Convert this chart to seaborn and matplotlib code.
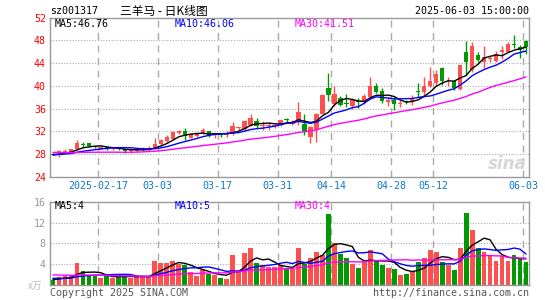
# 三羊马 (sz001317) daily K-line chart, Sina style
import numpy as np
import pandas as pd
import matplotlib
matplotlib.use("Agg")
import matplotlib.pyplot as plt
import seaborn as sns

# ------------------------------------------
# DATA
# ------------------------------------------

open_ = [28.1, 28.2, 28.4, 28.4, 28.9, 29.8, 29.9, 29.4, 29.0, 29.3,
         28.9, 29.2, 28.9, 28.5, 28.6, 28.8, 28.9, 29.0, 29.8, 30.4,
         30.7, 31.8, 32.0, 30.9, 31.2, 31.7, 32.0, 31.3, 31.6, 31.4,
         31.5, 32.6, 32.4, 33.2, 33.8, 33.0, 33.0, 33.0, 33.1, 34.2,
         33.4, 33.7, 33.4, 31.1, 32.2, 35.1, 39.6, 36.9, 37.8, 36.9,
         36.4, 37.3, 37.1, 38.1, 40.0, 39.1, 37.1, 37.6, 36.9, 37.3,
         37.1, 39.1, 38.9, 40.0, 40.5, 43.1, 40.8, 40.9, 39.5, 46.0,
         42.8, 45.4, 44.3, 44.8, 44.4, 46.0, 46.0, 47.3, 46.9, 47.9]
high = [28.3, 28.7, 28.9, 29.0, 30.5, 30.2, 30.0, 29.5, 29.4, 29.5,
        29.2, 29.3, 29.0, 28.9, 29.0, 29.3, 29.5, 30.9, 30.6, 31.3,
        32.0, 32.2, 32.6, 31.6, 31.7, 32.7, 32.1, 31.7, 31.8, 32.0,
        33.6, 32.8, 34.1, 35.1, 34.4, 33.8, 33.6, 33.4, 34.1, 34.4,
        34.0, 37.2, 35.0, 32.9, 35.2, 38.6, 42.3, 40.0, 38.3, 38.6,
        37.9, 37.8, 38.6, 41.6, 40.5, 39.6, 38.1, 38.1, 37.5, 37.6,
        38.4, 40.5, 41.6, 43.4, 42.8, 43.4, 41.6, 41.1, 43.7, 47.9,
        47.8, 45.9, 47.1, 45.5, 46.1, 47.0, 47.7, 48.9, 47.2, 48.0]
low = [27.8, 27.6, 28.2, 28.3, 28.8, 29.3, 29.3, 29.1, 28.9, 28.7,
       28.7, 28.8, 28.3, 28.3, 28.4, 28.6, 28.6, 28.9, 29.6, 30.2,
       30.5, 31.5, 30.5, 30.8, 31.0, 31.6, 31.0, 30.8, 31.1, 31.1,
       31.3, 32.3, 32.3, 33.0, 32.6, 32.3, 32.3, 32.6, 32.9, 33.6,
       33.2, 33.1, 31.3, 30.0, 30.2, 35.0, 37.3, 36.4, 36.4, 36.3,
       36.0, 36.1, 36.8, 37.9, 38.8, 37.0, 36.5, 35.8, 36.3, 36.8,
       36.7, 38.1, 38.1, 39.9, 40.2, 40.2, 40.0, 39.3, 39.3, 41.9,
       42.5, 44.3, 43.2, 44.3, 44.3, 44.8, 45.9, 46.6, 44.9, 45.6]
close = [27.9, 28.5, 28.6, 28.9, 29.9, 29.7, 29.4, 29.2, 29.2, 28.9,
         29.0, 28.9, 28.5, 28.7, 28.8, 29.0, 29.1, 29.8, 30.5, 31.0,
         31.9, 32.1, 31.2, 31.5, 31.5, 32.2, 31.4, 31.5, 31.4, 31.6,
         33.0, 32.7, 33.8, 34.3, 33.0, 33.2, 33.1, 33.2, 34.0, 34.0,
         33.7, 35.4, 32.0, 32.8, 35.1, 38.5, 38.4, 38.6, 36.7, 36.8,
         37.6, 37.1, 38.2, 40.0, 39.0, 37.3, 37.5, 36.9, 37.0, 37.1,
         37.9, 38.9, 40.0, 40.8, 42.1, 40.8, 40.9, 39.6, 43.6, 44.3,
         47.0, 44.6, 45.1, 45.0, 45.6, 46.3, 47.3, 47.2, 46.4, 46.8]
volume = [1.0, 1.5, 1.7, 1.9, 4.2, 2.7, 1.8, 1.8, 1.3, 1.8,
          1.4, 1.8, 1.8, 1.4, 1.5, 1.7, 1.7, 4.6, 4.2, 4.2,
          4.6, 4.0, 3.8, 2.5, 1.8, 2.8, 2.2, 1.9, 1.3, 1.2,
          5.7, 2.8, 6.2, 7.1, 4.2, 3.9, 3.5, 3.4, 3.8, 3.1,
          3.1, 7.1, 4.1, 5.2, 6.4, 5.7, 13.6, 8.1, 5.9, 5.2,
          4.1, 3.3, 4.5, 6.7, 4.8, 3.8, 3.3, 3.1, 1.9, 2.1,
          2.5, 4.5, 5.2, 6.7, 6.3, 4.5, 3.9, 2.9, 7.1, 13.8,
          10.6, 7.1, 6.4, 5.5, 4.7, 5.5, 4.6, 5.7, 4.9, 4.5]

# 29 sessions before the window, only needed for the moving averages
pre_close = [29.4, 29.1, 28.8, 29.2, 29.0, 28.7, 29.3, 29.0, 28.8, 28.9,
             29.1, 28.9, 28.4, 28.1, 27.9, 27.6, 27.8, 27.5, 27.7, 27.9,
             27.6, 27.8, 28.0, 27.7, 27.9, 28.1, 27.8, 28.0, 27.9]
pre_volume = [2.6, 2.2, 2.9, 2.4, 2.0, 2.7, 2.5, 2.1, 2.3, 2.8,
              2.4, 2.2, 2.0, 2.6, 2.3, 1.9, 2.1, 1.8, 1.7, 1.9,
              1.5, 1.6, 1.8, 1.4, 1.2, 1.1, 0.9, 1.3, 1.0]

tick_idx = [8, 18, 28, 38, 47, 57, 64, 79]
tick_labels = ["2025-02-17", "03-03", "03-17", "03-31",
               "04-14", "04-28", "05-12", "06-03"]

price_ma_text = ["MA5:46.76", "MA10:46.06", "MA30:41.51"]
vol_ma_text = ["MA5:4", "MA10:5", "MA30:4"]

# ------------------------------------------
# PREP
# ------------------------------------------

n = len(close)
idx = np.arange(n)
df = pd.DataFrame({"i": idx, "open": open_, "high": high, "low": low,
                   "close": close, "vol": volume})
cs = pd.Series(pre_close + close)
vs = pd.Series(pre_volume + volume)
k = len(pre_close)
for w in (5, 10, 30):
    df[f"ma{w}"] = cs.rolling(w).mean().iloc[k:].values
    df[f"vma{w}"] = vs.rolling(w).mean().iloc[k:].values

RED = "#ff5050"
GREEN = "#009900"
df["color"] = np.where(df["close"] >= df["open"], RED, GREEN)
ma_colors = {"5": "black", "10": "#0000ff", "30": "#ff00ff"}

# ------------------------------------------
# PLOT
# ------------------------------------------

sns.set_theme(style="white")
plt.rcParams["font.family"] = ["DejaVu Sans Mono", "Noto Sans CJK SC"]

W, H = 545, 300
fig = plt.figure(figsize=(W / 100, H / 100), dpi=100)
fig.patch.set_facecolor("white")

ax = fig.add_axes([50 / W, 1 - 177 / H, 479 / W, 159.3 / H])
axv = fig.add_axes([50 / W, 1 - 285 / H, 479 / W, 83.3 / H])

for a in (ax, axv):
    a.set_xlim(-0.5, n - 0.5)
    for s in a.spines.values():
        s.set_color("#999999")
        s.set_linewidth(1)
    for t in tick_idx:
        a.axvline(t - 0.5, color="#aaaaaa", lw=1, ls=(0, (5, 4)), zorder=0)
    a.tick_params(length=0, pad=3)

# price panel
ax.set_ylim(24, 52)
for y in range(28, 52, 4):
    ax.axhline(y, color="#aaaaaa", lw=0.8, ls=(0, (1, 1.5)), zorder=0)
ax.vlines(df["i"], df["low"], df["high"], color=df["color"], lw=1, zorder=2)
body_lo = df[["open", "close"]].min(axis=1)
body_h = (df["close"] - df["open"]).abs().clip(lower=0.15)
ax.bar(df["i"], body_h, bottom=body_lo, width=0.72, color=df["color"],
       linewidth=0, zorder=3)
for w in ("5", "10", "30"):
    sns.lineplot(data=df, x="i", y=f"ma{w}", color=ma_colors[w], lw=1,
                 ax=ax, zorder=4, legend=False)
ax.set_yticks(range(24, 53, 4))
ax.set_yticklabels([str(v) for v in range(24, 53, 4)], color="red", fontsize=7.2)
ax.set_xticks([t - 0.5 for t in tick_idx])
ax.set_xticklabels(tick_labels, color="#0a7ac8", fontsize=7.2)
ax.set_xlabel("")
ax.set_ylabel("")

# volume panel
axv.set_ylim(0, 16)
for y in (4, 8, 12):
    axv.axhline(y, color="#aaaaaa", lw=0.8, ls=(0, (1, 1.5)), zorder=0)
axv.bar(df["i"], df["vol"], width=0.8, color=df["color"], linewidth=0, zorder=2)
for w in ("5", "10", "30"):
    sns.lineplot(data=df, x="i", y=f"vma{w}", color=ma_colors[w], lw=1,
                 ax=axv, zorder=3, legend=False)
axv.set_yticks([4, 8, 12, 16])
axv.set_yticklabels(["4", "8", "12", "16"], color="#999999", fontsize=7.2)
axv.set_xticks([])
axv.set_xlabel("")
axv.set_ylabel("")

# ------------------------------------------
# TEXT
# ------------------------------------------

def ftext(x, y, s, **kw):
    fig.text(x / W, 1 - y / H, s, va="center", **kw)

ftext(50, 11, "sz001317", fontsize=7.2, color="black")
ftext(120, 11, "三羊马 - 日K线图", fontsize=8.5, color="black",
      family=["Noto Sans CJK SC", "DejaVu Sans"])
ftext(529, 11, "2025-06-03 15:00:00", fontsize=7.2, color="black", ha="right")

for x, s, w in zip((55, 175, 295), price_ma_text, ("5", "10", "30")):
    ftext(x, 24, s, fontsize=7.2, color=ma_colors[w])
for x, s, w in zip((55, 175, 295), vol_ma_text, ("5", "10", "30")):
    ftext(x, 206, s, fontsize=7.2, color=ma_colors[w])

ftext(28, 286, "x万", fontsize=7, color="#bbbbbb",
      family=["Noto Sans CJK SC", "DejaVu Sans"])
ftext(50, 293, "Copyright 2025 SINA.COM", fontsize=7.2, color="#555555")
ftext(529, 293, "http://finance.sina.com.cn", fontsize=7.2, color="#555555",
      ha="right")
ftext(527, 164, "sina", fontsize=12, color="#d6d6d6", ha="right",
      family="DejaVu Sans", style="italic", weight="bold")

fig.savefig("out.png", dpi=100)
